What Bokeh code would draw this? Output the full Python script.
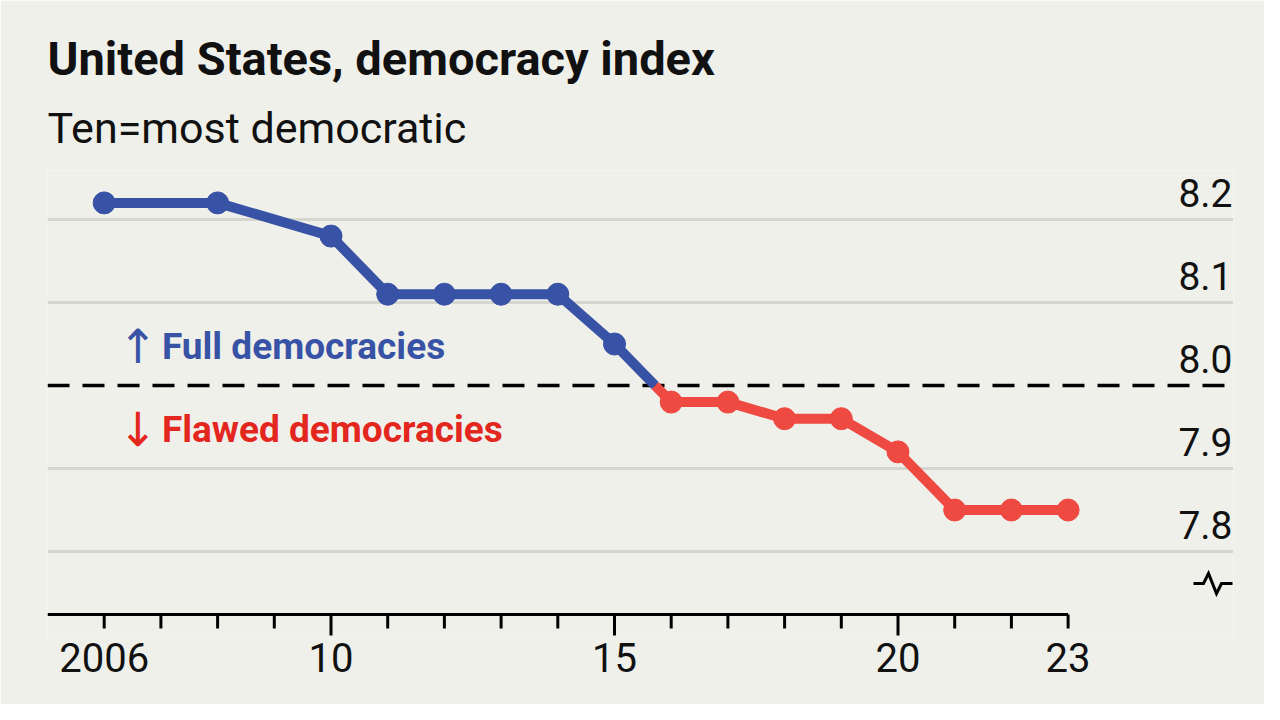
from bokeh.plotting import figure
from bokeh.models import Range1d, FixedTicker, Span, Title
from bokeh.core.properties import value
from bokeh.embed import file_html
from bokeh.resources import INLINE

# ---------------- data ----------------
years = [2006, 2008, 2010, 2011, 2012, 2013, 2014, 2015,
         2016, 2017, 2018, 2019, 2020, 2021, 2022, 2023]
index_values = [8.22, 8.22, 8.18, 8.11, 8.11, 8.11, 8.11, 8.05,
                7.98, 7.98, 7.96, 7.96, 7.92, 7.85, 7.85, 7.85]
threshold = 8.0
tick_years = list(range(2006, 2024))
x_label_years = [2006, 2010, 2015, 2020, 2023]
x_labels = ["2006", "10", "15", "20", "23"]
y_ticks = [7.8, 7.9, 8.0, 8.1, 8.2]
y_labels = ["7.8", "7.9", "8.0", "8.1", "8.2"]
title_text = "United States, democracy index"
subtitle_text = "Ten=most democratic"
arrow_up, label_full = "\u2191", "Full democracies"
arrow_down, label_flawed = "\u2193", "Flawed democracies"

# ---------------- style ----------------
BG = "#f0f0eb"
BLUE = "#3853a6"
RED_LINE = "#ef4a42"
RED_TEXT = "#e3261e"
GRID = "#d6d6d1"
FONT = "Roboto"
ARROW_FONT = "DejaVu Sans"

W, H = 1264, 704
B_LEFT, B_RIGHT, B_TOP, B_BOTTOM = 47, 31, 170, 66
frame_w = W - B_LEFT - B_RIGHT
frame_h = H - B_TOP - B_BOTTOM
PPY = 56.7      # pixels per year
PPU = 830.0     # pixels per index unit

x_start = 2005.0
x_end = x_start + frame_w / PPY
y_top = 8.2 + 49 / PPU
y_bottom = y_top - frame_h / PPU

p = figure(width=W, height=H, output_backend="svg", toolbar_location=None,
           x_range=Range1d(x_start, x_end), y_range=Range1d(y_bottom, y_top),
           y_axis_location=None, title=title_text,
           min_border_left=B_LEFT, min_border_right=B_RIGHT,
           min_border_top=B_TOP, min_border_bottom=B_BOTTOM)
p.background_fill_color = BG
p.border_fill_color = BG
p.outline_line_color = None

# titles (p.title is outermost, added Title sits next to the frame)
p.title.text_font = FONT
p.title.text_font_size = "47px"
p.title.text_font_style = "bold"
p.title.text_color = "#111111"
p.title.offset = 0
p.title.standoff = -4
p.add_layout(Title(text=subtitle_text, text_font=FONT, text_font_size="43px",
                   text_font_style="normal", text_color="#111111", standoff=35), "above")

# grid
p.xgrid.visible = False
p.ygrid.ticker = FixedTicker(ticks=[t for t in y_ticks if t != threshold])
p.ygrid.grid_line_color = GRID
p.ygrid.grid_line_width = 3

p.add_layout(Span(location=threshold, dimension="width", line_color="black",
                  line_width=3.5, line_dash="22 13", level="underlay"))

# x axis: labels from the axis, line and ticks drawn inside the frame
p.xaxis.ticker = FixedTicker(ticks=x_label_years, minor_ticks=[])
p.xaxis.major_label_overrides = {yr: lab for yr, lab in zip(x_label_years, x_labels)}
p.xaxis.axis_line_color = None
p.xaxis.major_tick_line_color = None
p.xaxis.minor_tick_line_color = None
p.xaxis.major_label_standoff = -2
p.xaxis.major_label_text_font = FONT
p.xaxis.major_label_text_font_size = "40px"
p.xaxis.major_label_text_color = "#111111"

y_axis_line = y_bottom + 24 / PPU
minor_len = 14 / PPU
major_len = 21 / PPU
p.segment(x0=[x_start], y0=[y_axis_line], x1=[tick_years[-1]], y1=[y_axis_line],
          line_color="black", line_width=3)
tick_bottom = [y_axis_line - (major_len if (yr % 5 == 0) else minor_len) for yr in tick_years]
p.segment(x0=tick_years, y0=[y_axis_line] * len(tick_years), x1=tick_years, y1=tick_bottom,
          line_color="black", line_width=3)

# y labels (inside, right-aligned, above gridlines)
p.text(x=[x_end] * len(y_ticks), y=y_ticks, text=y_labels,
       text_align="right", text_baseline="alphabetic", x_offset=-1, y_offset=-27,
       text_font=value(FONT), text_font_size="39px", text_color="#111111")

# axis break symbol
bx = [x_end + d / PPY for d in (-40, -30, -25, -17, -12, -1)]
by_base = 7.8 - 32 / PPU
by = [by_base - d / PPU for d in (0, 0, -10, 10, 0, 0)]
p.line(bx, by, line_color="black", line_width=3, line_join="miter")

# split the series at the threshold crossing
cross_i = next(i for i in range(1, len(years)) if index_values[i] < threshold)
xa, xb = years[cross_i - 1], years[cross_i]
va, vb = index_values[cross_i - 1], index_values[cross_i]
x_cross = xa + (va - threshold) / (va - vb) * (xb - xa)

blue_x = years[:cross_i] + [x_cross]
blue_y = index_values[:cross_i] + [threshold]
red_x = [x_cross] + years[cross_i:]
red_y = [threshold] + index_values[cross_i:]

p.line(red_x, red_y, line_color=RED_LINE, line_width=10, line_join="round")
p.line(blue_x, blue_y, line_color=BLUE, line_width=10, line_join="round")
p.scatter(years[:cross_i], index_values[:cross_i], size=22, color=BLUE)
p.scatter(years[cross_i:], index_values[cross_i:], size=22, color=RED_LINE)

# annotations
ann_x = 2006.33
for arrow, label, color, dy in ((arrow_up, label_full, BLUE, -39),
                                (arrow_down, label_flawed, RED_TEXT, 44)):
    p.text(x=[ann_x], y=[threshold], text=[arrow], x_offset=-5, y_offset=dy,
           text_baseline="alphabetic", text_font=value(ARROW_FONT), text_font_size="47px",
           text_color=color)
    p.text(x=[ann_x], y=[threshold], text=[label], x_offset=39, y_offset=dy,
           text_baseline="alphabetic", text_font=value(FONT), text_font_size="37px",
           text_font_style="bold", text_color=color)

open("out.html", "w").write(file_html(p, INLINE))
